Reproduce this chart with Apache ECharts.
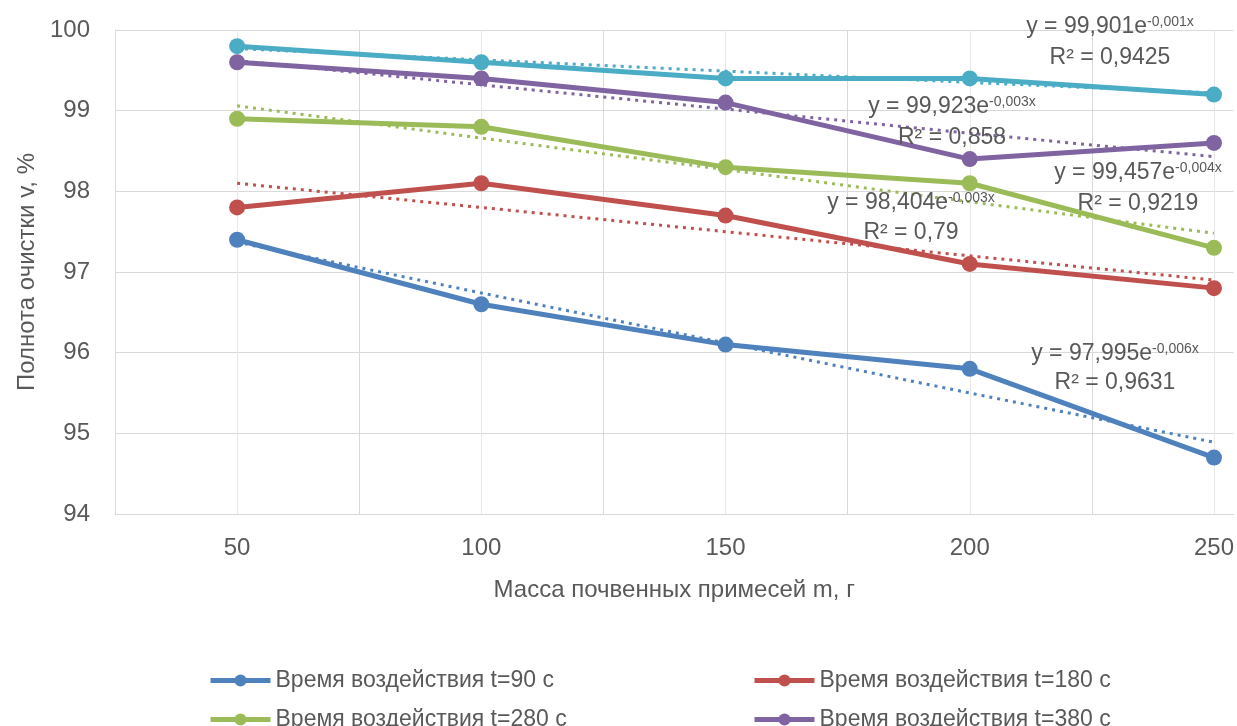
<!DOCTYPE html>
<html>
<head>
<meta charset="utf-8">
<script src="https://cdn.jsdelivr.net/npm/echarts@6/dist/echarts.min.js"></script>
<style>
  html, body { margin: 0; padding: 0; background: #fff; }
  #chart { width: 1237px; height: 726px; }
</style>
</head>
<body>
<div id="chart"></div>
<script>
// масса почвенных примесей, г
const massValues = [50, 100, 150, 200, 250];

// полнота очистки, % (по сериям)
const t90 = [97.4, 96.6, 96.1, 95.8, 94.7];
const t180 = [97.8, 98.1, 97.7, 97.1, 96.8];
const t280 = [98.9, 98.8, 98.3, 98.1, 97.3];
const t380 = [99.6, 99.4, 99.1, 98.4, 98.6];
const t480 = [99.8, 99.6, 99.4, 99.4, 99.2];

// линии тренда (экспоненциальные)
const trend90 = [97.37, 96.74, 96.12, 95.50, 94.89];
const trend180 = [98.10, 97.80, 97.50, 97.20, 96.90];
const trend280 = [99.06, 98.66, 98.27, 97.87, 97.48];
const trend380 = [99.62, 99.32, 99.02, 98.72, 98.43];
const trend480 = [99.77, 99.63, 99.49, 99.35, 99.22];

const seriesNames = [
  'Время воздействия t=90 с',
  'Время воздействия t=180 с',
  'Время воздействия t=280 с',
  'Время воздействия t=380 с',
  'Время воздействия t=480 с'
];

// подписи уравнений: [коэффициент, показатель, R²]
const equations = [
  ['99,901', '-0,001x', '0,9425'],
  ['99,923', '-0,003x', '0,858'],
  ['99,457', '-0,004x', '0,9219'],
  ['98,404', '-0,003x', '0,79'],
  ['97,995', '-0,006x', '0,9631']
];

const Colors = ['#4F81BD', '#C0504D', '#9BBB59', '#8064A2', '#4BACC6'];
const textColor = '#595959';
const font = 'Liberation Sans';

function pairs(vals) {
  return massValues.map((m, i) => [m, vals[i]]);
}

const values = [t90, t180, t280, t380, t480];
const trends = [trend90, trend180, trend280, trend380, trend480];

let series = [];
values.forEach((v, i) => {
  series.push({
    name: seriesNames[i],
    type: 'line',
    data: pairs(v),
    symbol: 'circle',
    symbolSize: 16,
    lineStyle: { width: 5, color: Colors[i] },
    itemStyle: { color: Colors[i] },
    z: 3
  });
});
trends.forEach((v, i) => {
  series.push({
    name: 'trend' + i,
    type: 'line',
    data: pairs(v),
    symbol: 'none',
    lineStyle: { width: 3, color: Colors[i], type: [3, 5] },
    z: 2,
    silent: true
  });
});

// позиции подписей уравнений (центр, строка уравнения, строка R²)
const eqPos = [
  [1110, 27, 58],
  [952, 107, 138],
  [1138, 173, 204],
  [911, 203, 233],
  [1115, 354, 383]
];

let graphic = [];
equations.forEach((e, i) => {
  const p = eqPos[i];
  graphic.push({
    type: 'text',
    x: p[0], y: p[1],
    z: 10,
    style: {
      text: '{a|y = ' + e[0] + 'e}{s|' + e[1] + '}',
      align: 'center',
      verticalAlign: 'middle',
      rich: {
        a: { fontSize: 23, fontFamily: font, fill: textColor, color: textColor },
        s: { fontSize: 14, fontFamily: font, fill: textColor, color: textColor, verticalAlign: 'top', padding: [0, 0, 10, 0] }
      }
    }
  });
  graphic.push({
    type: 'text',
    x: p[0], y: p[2],
    z: 10,
    style: {
      text: 'R² = ' + e[2],
      align: 'center',
      verticalAlign: 'middle',
      fontSize: 23,
      fontFamily: font,
      fill: textColor
    }
  });
});

const legendPos = [[203, 664], [747, 664], [203, 703], [747, 703]];
let legends = legendPos.map((p, i) => ({
  data: [seriesNames[i]],
  left: p[0],
  top: p[1],
  itemWidth: 60,
  itemHeight: 15,
  itemGap: 6,
  lineStyle: { width: 5 },
  textStyle: { fontSize: 23, fontFamily: font, color: textColor }
}));

const myChart = echarts.init(document.getElementById('chart'));
myChart.setOption({
  animation: false,
  backgroundColor: '#fff',
  grid: { left: 115, top: 30, right: 0, bottom: 212 },
  legend: legends,
  xAxis: {
    type: 'value',
    min: 25,
    max: 254,
    interval: 25,
    name: 'Масса почвенных примесей m, г',
    nameLocation: 'middle',
    nameGap: 64,
    nameTextStyle: { fontSize: 24, fontFamily: font, color: textColor },
    axisLine: { show: true, lineStyle: { color: '#d9d9d9' } },
    axisTick: { show: false },
    axisLabel: {
      fontSize: 24,
      fontFamily: font,
      color: textColor,
      margin: 22,
      formatter: (v) => (v % 50 === 0 ? String(v) : '')
    },
    splitLine: { show: true, showMaxLine: false, lineStyle: { color: ['#d9d9d9', '#e8e8e8'] } }
  },
  yAxis: {
    type: 'value',
    min: 94,
    max: 100,
    interval: 1,
    name: 'Полнота очистки v, %',
    nameLocation: 'middle',
    nameGap: 74,
    nameTextStyle: { fontSize: 24, fontFamily: font, color: textColor },
    axisLine: { show: true, lineStyle: { color: '#d9d9d9' } },
    axisTick: { show: false },
    axisLabel: { fontSize: 24, fontFamily: font, color: textColor, margin: 25 },
    splitLine: { show: true, lineStyle: { color: '#d9d9d9' } }
  },
  graphic: graphic,
  series: series
});
</script>
</body>
</html>
